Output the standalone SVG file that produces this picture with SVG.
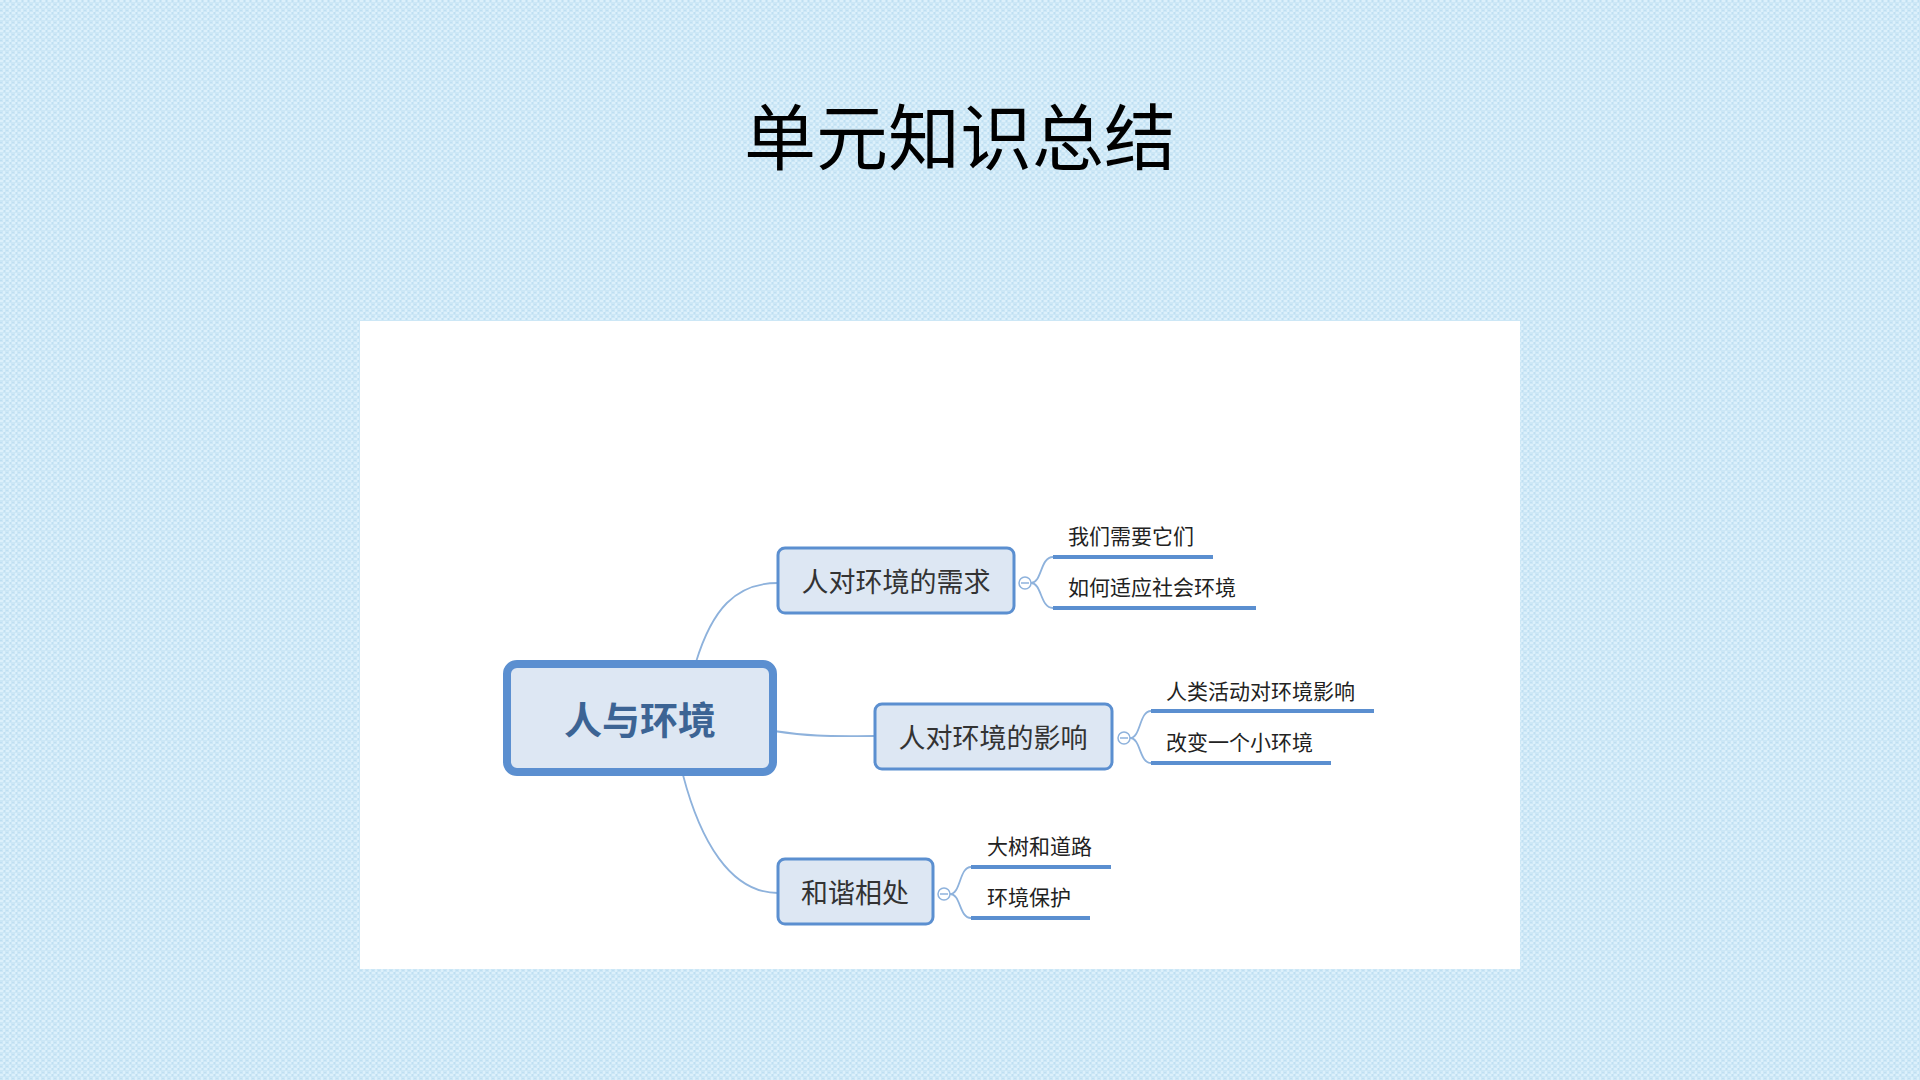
<svg xmlns="http://www.w3.org/2000/svg" width="1920" height="1080" viewBox="0 0 1920 1080">
<defs>
<pattern id="tex" width="6" height="6" patternUnits="userSpaceOnUse">
<rect width="6" height="6" fill="#cce7f6"/>
<rect x="0" y="0" width="3" height="2" fill="#dcf0fb"/>
<rect x="3" y="3" width="2" height="3" fill="#dcf0fb"/>
<rect x="4" y="0" width="1" height="2" fill="#bfdff2"/>
<rect x="0" y="4" width="2" height="1" fill="#bfdff2"/>
</pattern>
<style>
.cjk{font-family:"Noto Sans CJK SC","Microsoft YaHei",sans-serif;}
.node rect{fill:#dde7f3;stroke:#5b8fd0;stroke-width:3;}
.ntext{font-size:27px;fill:#333333;text-anchor:middle;dominant-baseline:central;}
.leaf{font-size:21px;fill:#222222;dominant-baseline:central;}
.ul{stroke:#5b8fd0;stroke-width:4;fill:none;}
.conn{stroke:#8eb2dc;stroke-width:1.8;fill:none;}
.tog{fill:#ffffff;stroke:#8eb2dc;stroke-width:1.5;}
.togl{stroke:#8eb2dc;stroke-width:1.5;}
</style>
</defs>
<rect width="1920" height="1080" fill="url(#tex)"/>
<text class="cjk" x="960" y="164" font-size="72" text-anchor="middle" fill="#000000">单元知识总结</text>
<rect x="360" y="321" width="1160" height="648" fill="#ffffff"/>

<g id="connectors">
<path class="conn" d="M696,662 C712,610 735,583 778,583"/>
<path class="conn" d="M774,731 C815,737 830,736 874,736"/>
<path class="conn" d="M683,775 C700,840 730,893 778,893"/>
<path class="conn" d="M1031,583 C1042,583 1040,557 1053,557 M1031,583 C1042,583 1040,608 1053,608"/>
<path class="conn" d="M1130,738 C1141,738 1139,711 1151,711 M1130,738 C1141,738 1139,763 1151,763"/>
<path class="conn" d="M950,894 C961,894 959,867 971,867 M950,894 C961,894 959,918 971,918"/>
</g>

<g id="root">
<rect x="507" y="664" width="266" height="108" rx="10" fill="#dde7f3" stroke="#5b8fd0" stroke-width="8"/>
<text class="cjk" x="640" y="717" font-size="38" font-weight="bold" fill="#3c6494" text-anchor="middle" dominant-baseline="central">人与环境</text>
</g>

<g id="n1" class="node">
<rect x="778" y="548" width="236" height="65" rx="7"/>
<text class="cjk ntext" x="896" y="580">人对环境的需求</text>
</g>
<g id="n1t">
<circle class="tog" cx="1025" cy="583" r="6"/>
<line class="togl" x1="1021" y1="583" x2="1029" y2="583"/>
</g>
<g id="n2" class="node">
<rect x="875" y="704" width="237" height="65" rx="7"/>
<text class="cjk ntext" x="993" y="736">人对环境的影响</text>
</g>
<g id="n2t">
<circle class="tog" cx="1124" cy="738" r="6"/>
<line class="togl" x1="1120" y1="738" x2="1128" y2="738"/>
</g>
<g id="n3" class="node">
<rect x="778" y="859" width="155" height="65" rx="7"/>
<text class="cjk ntext" x="855" y="891">和谐相处</text>
</g>
<g id="n3t">
<circle class="tog" cx="944" cy="894" r="6"/>
<line class="togl" x1="940" y1="894" x2="948" y2="894"/>
</g>

<g id="l1">
<text class="cjk leaf" x="1068" y="535">我们需要它们</text>
<line class="ul" x1="1053" y1="557" x2="1213" y2="557"/>
</g>
<g id="l2">
<text class="cjk leaf" x="1068" y="586">如何适应社会环境</text>
<line class="ul" x1="1053" y1="608" x2="1256" y2="608"/>
</g>
<g id="l3">
<text class="cjk leaf" x="1166" y="690">人类活动对环境影响</text>
<line class="ul" x1="1151" y1="711" x2="1374" y2="711"/>
</g>
<g id="l4">
<text class="cjk leaf" x="1166" y="741">改变一个小环境</text>
<line class="ul" x1="1151" y1="763" x2="1331" y2="763"/>
</g>
<g id="l5">
<text class="cjk leaf" x="987" y="845">大树和道路</text>
<line class="ul" x1="971" y1="867" x2="1111" y2="867"/>
</g>
<g id="l6">
<text class="cjk leaf" x="987" y="896">环境保护</text>
<line class="ul" x1="971" y1="918" x2="1090" y2="918"/>
</g>
</svg>
